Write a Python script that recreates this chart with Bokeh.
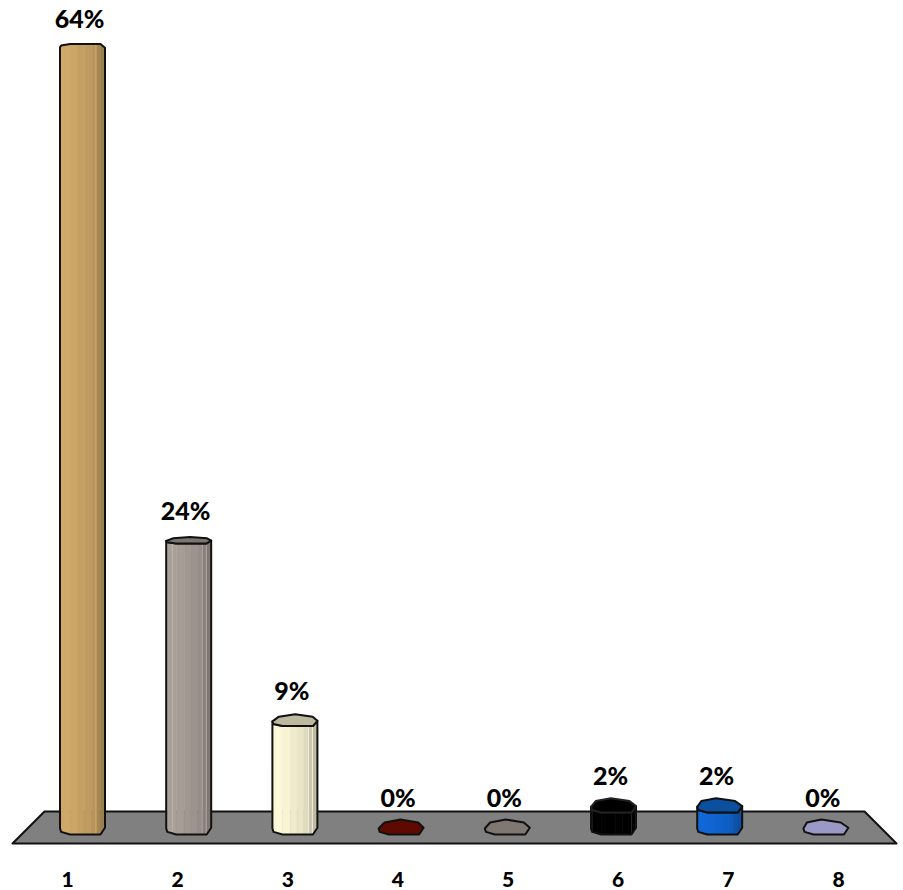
import numpy as np
from bokeh.plotting import figure
from bokeh.models import Range1d, LinearAxis, FixedTicker
from bokeh.core.properties import value as bvalue
from bokeh.embed import file_html
from bokeh.resources import INLINE

categories = [1, 2, 3, 4, 5, 6, 7, 8]
tick_labels = ["1", "2", "3", "4", "5", "6", "7", "8"]
values = [64.9, 23.9, 8.9, 0.0, 0.0, 1.8, 1.8, 0.0]
value_labels = ["64%", "24%", "9%", "0%", "0%", "2%", "2%", "0%"]
bar_colors = ["#C49F62", "#A09790", "#EEEACB", "#5E0A00", "#7F7770", "#000000", "#0F62CC", "#9C98C6"]
top_colors = ["#C49F62", "#7D7570", "#BDB99F", "#5E0A00", "#7F7770", "#000000", "#0B4F9E", "#9C98C6"]
floor_color = "#808080"

PX = 106.2          # pixels per category
PY = 12.0           # pixels per percentage point
dx = 1 / PX
dy = 1 / PY
HALF = 22.5
BASE_D = 7.5
FRAME_W = 903
FRAME_H = 850

# octagonal section of each column: (u across, v in depth)
oct_u = np.array([-1, -0.75, -0.05, 0.75, 1, 0.8, -0.55, -0.95])
oct_v = np.array([0.2, -0.6, -1, -0.6, 0.1, 1, 1, 0.65])
front_u = np.array([-1, -0.95, -0.55, 0.8, 1])
front_v = np.array([0.2, 0.65, 1, 1, 0.1])
strip_u = np.array([-1, -0.95, -0.55, -0.2, 0.1, 0.4, 0.6, 0.8, 1])
strip_k = [1.0, 1.06, 1.04, 1.0, 0.98, 0.94, 0.85, 0.8]


def shade(hex_color, k):
    c = [int(hex_color[i:i + 2], 16) for i in (1, 3, 5)]
    return "#%02x%02x%02x" % tuple(min(255, int(x * k)) for x in c)


p = figure(frame_width=FRAME_W, frame_height=FRAME_H, output_backend="svg", toolbar_location=None,
           x_range=Range1d(1 + (0 - 82) / PX, 1 + (FRAME_W - 82) / PX),
           y_range=Range1d((826.5 - FRAME_H) / PY, 826.5 / PY),
           x_axis_location=None, y_axis_location=None,
           min_border=0, min_border_left=0, min_border_right=0, min_border_top=0, min_border_bottom=0)
p.outline_line_color = None
p.background_fill_color = "#ffffff"
p.grid.visible = False

# category labels sit on the front of the floor, so they have their own wider scale
LX = 110.14
p.extra_x_ranges["labels"] = Range1d(1 + (0 - 67) / LX, 1 + (FRAME_W - 67) / LX)
axis = LinearAxis(x_range_name="labels", ticker=FixedTicker(ticks=categories),
                  major_label_overrides={c: t for c, t in zip(categories, tick_labels)},
                  axis_line_color=None, major_tick_line_color=None, minor_tick_line_color=None,
                  major_label_text_font="Lato Black", major_label_text_font_style="normal",
                  major_label_text_font_size="21px", major_label_text_color="#000000",
                  major_label_standoff=15)
p.add_layout(axis, "below")

# floor
fx0 = 1 + (12 - 82) / PX
fx1 = 1 + (44 - 82) / PX
fx2 = 1 + (864 - 82) / PX
fx3 = 1 + (896 - 82) / PX
fy0 = (826.5 - 843) * dy
fy1 = (826.5 - 811) * dy
p.patch([fx0, fx1, fx2, fx3], [fy0, fy1, fy1, fy0], fill_color=floor_color,
        line_color="#111111", line_width=2, line_join="round")

# columns
for cat, val, col, top in zip(categories, values, bar_colors, top_colors):
    d = 7.5 - 0.18 * val
    edge = "#111111"
    inner = "#222222" if col == "#000000" else None
    lean = np.where(oct_v < 0, (cat - 4.5) * oct_v, 0.0)

    if val > 0:
        for i, k in enumerate(strip_k):
            us = np.linspace(strip_u[i], strip_u[i + 1], 6)
            vs = np.interp(us, front_u, front_v)
            xs = cat + us * HALF * dx
            top_y = val - d * vs * dy
            low_y = -BASE_D * vs * dy
            p.patch(np.r_[xs, xs[::-1]], np.r_[top_y, low_y[::-1]],
                    fill_color=shade(col, k), line_color=shade(col, k), line_width=0.5)
        if cat <= 3:
            for u_line in ([0.6] if cat == 1 else [-0.72, 0.6, 0.78]):
                vv = np.interp(u_line, front_u, front_v)
                p.line([cat + u_line * HALF * dx] * 2,
                       [val - d * vv * dy, -BASE_D * vv * dy],
                       line_color=shade(col, 1.22), line_width=1, line_alpha=0.7)
        if inner:
            for u_line in (-0.95, 0.8):
                vv = np.interp(u_line, front_u, front_v)
                p.line([cat + u_line * HALF * dx] * 2,
                       [val - d * vv * dy, -BASE_D * vv * dy], line_color=inner, line_width=1)
        us = np.r_[front_u, front_u[::-1]]
        ys = np.r_[val - d * front_v * dy, -BASE_D * front_v[::-1] * dy]
        p.patch(cat + us * HALF * dx, ys, fill_color=None, line_color=edge, line_width=2, line_join="round")

    if d > 0:
        p.patch(cat + (oct_u * HALF + lean) * dx, val - d * oct_v * dy,
                fill_color=top, line_color=inner if (val > 0 and inner) else edge,
                line_width=2, line_join="round")

# value labels
p.text(x=[c - 3 * dx for c in categories],
       y=[v + 30 * dy for v in values],
       text=value_labels, text_font=bvalue("Lato Black"), text_font_style="normal",
       text_font_size="25px", text_align="center", text_baseline="alphabetic", text_color="#000000")

open("out.html", "w").write(file_html(p, INLINE))
